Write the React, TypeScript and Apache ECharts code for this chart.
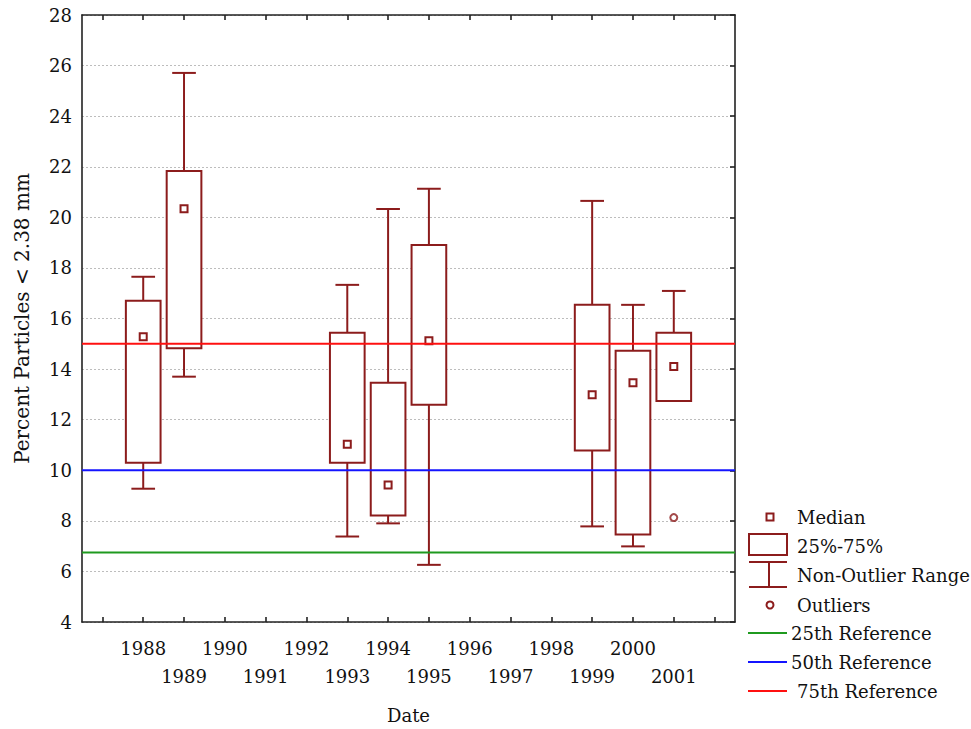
import React, { useEffect, useRef } from "react";
import * as echarts from "echarts";

// ---- data ----
const boxYears = [1988, 1989, 1993, 1994, 1995, 1999, 2000, 2001];
const whiskerLow = [9.27, 13.7, 7.38, 7.9, 6.26, 7.78, 6.99, 12.74];
const q1 = [10.3, 14.82, 10.3, 8.21, 12.59, 10.78, 7.46, 12.74];
const medians = [15.28, 20.34, 11.03, 9.42, 15.12, 12.99, 13.46, 14.1];
const q3 = [16.7, 21.83, 15.44, 13.46, 18.91, 16.54, 14.72, 15.44];
const whiskerHigh = [17.65, 25.71, 17.33, 20.33, 21.13, 20.65, 16.54, 17.09];
const outlierYears = [2001];
const outlierValues = [8.13];
const labelYearsRow1 = [1988, 1990, 1992, 1994, 1996, 1998, 2000];
const labelYearsRow2 = [1989, 1991, 1993, 1995, 1997, 1999, 2001];
const tickYears = [1987, 1988, 1989, 1990, 1991, 1992, 1993, 1994, 1995, 1996, 1997, 1998, 1999, 2000, 2001, 2002];
const refNames = ["25th Reference", "50th Reference", "75th Reference"];
const refValues = [6.75, 10, 15];
const refColors = ["#1f9a1f", "#1414ff", "#ff1010"];

const X_MIN = 1986.5;
const X_MAX = 2002.5;
const BOX_COLOR = "#8c1c1c";
const FONT = "DejaVu Serif";
const FS = 18;
const AXIS_COLOR = "#222222";

export default function App() {
  const ref = useRef<HTMLDivElement>(null);
  useEffect(() => {
    document.body.style.margin = "0";
    const chart = echarts.init(ref.current!, null, { renderer: "svg" });

    const boxData = boxYears.map((y, i) => [y, whiskerLow[i], q1[i], medians[i], q3[i], whiskerHigh[i]]);

    const renderBox = (params: any, api: any) => {
      const x = api.value(0);
      const [cx, yLow] = api.coord([x, api.value(1)]);
      const yQ1 = api.coord([x, api.value(2)])[1];
      const yMed = api.coord([x, api.value(3)])[1];
      const yQ3 = api.coord([x, api.value(4)])[1];
      const yHigh = api.coord([x, api.value(5)])[1];
      const boxW = api.size([0.85, 0])[0];
      const capW = api.size([0.58, 0])[0];
      const st = { stroke: BOX_COLOR, lineWidth: 2, fill: "none" };
      return {
        type: "group",
        children: [
          { type: "line", shape: { x1: cx, y1: yHigh, x2: cx, y2: yQ3 }, style: st },
          { type: "line", shape: { x1: cx, y1: yQ1, x2: cx, y2: yLow }, style: st },
          { type: "line", shape: { x1: cx - capW / 2, y1: yHigh, x2: cx + capW / 2, y2: yHigh }, style: st },
          { type: "line", shape: { x1: cx - capW / 2, y1: yLow, x2: cx + capW / 2, y2: yLow }, style: st },
          {
            type: "rect",
            shape: { x: cx - boxW / 2, y: yQ3, width: boxW, height: yQ1 - yQ3 },
            style: { stroke: BOX_COLOR, lineWidth: 2, fill: "#ffffff" },
          },
          {
            type: "rect",
            shape: { x: cx - 3.5, y: yMed - 3.5, width: 7, height: 7 },
            style: { stroke: BOX_COLOR, lineWidth: 2, fill: "#ffffff" },
          },
        ],
      };
    };

    const textStyle = { fontFamily: FONT, fontSize: FS, fill: "#111" };
    const lx1 = 749;
    const lx2 = 787;
    const legend: any[] = [
      { type: "rect", shape: { x: 766.5, y: 513.5, width: 7, height: 7 }, style: { stroke: BOX_COLOR, lineWidth: 2, fill: "#fff" } },
      { type: "text", x: 797, y: 517, style: { ...textStyle, text: "Median", verticalAlign: "middle" } },
      { type: "rect", shape: { x: lx1, y: 534, width: lx2 - lx1, height: 21 }, style: { stroke: BOX_COLOR, lineWidth: 2, fill: "#fff" } },
      { type: "text", x: 797, y: 546, style: { ...textStyle, text: "25%-75%", verticalAlign: "middle" } },
      { type: "line", shape: { x1: lx1, y1: 562, x2: lx2, y2: 562 }, style: { stroke: BOX_COLOR, lineWidth: 2 } },
      { type: "line", shape: { x1: 769, y1: 562, x2: 769, y2: 587 }, style: { stroke: BOX_COLOR, lineWidth: 2 } },
      { type: "line", shape: { x1: lx1, y1: 587, x2: lx2, y2: 587 }, style: { stroke: BOX_COLOR, lineWidth: 2 } },
      { type: "text", x: 797, y: 575, style: { ...textStyle, text: "Non-Outlier Range", verticalAlign: "middle" } },
      { type: "circle", shape: { cx: 770, cy: 605, r: 3.5 }, style: { stroke: BOX_COLOR, lineWidth: 2, fill: "#fff" } },
      { type: "text", x: 797, y: 605, style: { ...textStyle, text: "Outliers", verticalAlign: "middle" } },
    ];
    const refLegendY = [633, 662, 691];
    const refLegendX = [791, 791, 797];
    refNames.forEach((n, i) => {
      legend.push({ type: "line", shape: { x1: 748, y1: refLegendY[i], x2: 787, y2: refLegendY[i] }, style: { stroke: refColors[i], lineWidth: 2 } });
      legend.push({ type: "text", x: refLegendX[i], y: refLegendY[i], style: { ...textStyle, text: n, verticalAlign: "middle" } });
    });

    const axisLineStyle = { color: AXIS_COLOR, width: 1.6 };
    const yearFmt = (v: number) => String(Math.round(v));

    chart.setOption({
      animation: false,
      backgroundColor: "#ffffff",
      grid: { left: 82, right: 236, top: 15, bottom: 105 },
      xAxis: [
        {
          type: "value",
          min: X_MIN,
          max: X_MAX,
          name: "Date",
          nameLocation: "middle",
          nameGap: 84,
          nameTextStyle: { fontFamily: FONT, fontSize: FS, color: "#111" },
          axisLine: { lineStyle: axisLineStyle },
          axisTick: { show: true, inside: true, length: 5, customValues: tickYears, lineStyle: axisLineStyle },
          axisLabel: {
            customValues: labelYearsRow1,
            showMinLabel: true,
            showMaxLabel: true,
            fontFamily: FONT,
            fontSize: FS,
            color: "#111",
            margin: 17,
            formatter: yearFmt,
          },
          splitLine: { show: false },
        },
        {
          type: "value",
          position: "bottom",
          min: X_MIN,
          max: X_MAX,
          axisLine: { show: false },
          axisTick: { show: false },
          axisLabel: {
            customValues: labelYearsRow2,
            showMinLabel: true,
            showMaxLabel: true,
            fontFamily: FONT,
            fontSize: FS,
            color: "#111",
            margin: 45,
            formatter: yearFmt,
          },
          splitLine: { show: false },
        },
        {
          type: "value",
          position: "top",
          min: X_MIN,
          max: X_MAX,
          axisLine: { show: true, lineStyle: axisLineStyle },
          axisTick: { show: true, inside: true, length: 5, customValues: tickYears, lineStyle: axisLineStyle },
          axisLabel: { show: false },
          splitLine: { show: false },
        },
      ],
      yAxis: [
        {
          type: "value",
          min: 4,
          max: 28,
          interval: 2,
          name: "Percent Particles < 2.38 mm",
          nameLocation: "middle",
          nameRotate: 90,
          nameGap: 50,
          nameTextStyle: { fontFamily: FONT, fontSize: 20, color: "#111" },
          axisLine: { show: true, lineStyle: axisLineStyle },
          axisTick: { show: false },
          axisLabel: { fontFamily: FONT, fontSize: FS, color: "#111", margin: 10 },
          splitLine: { show: true, lineStyle: { color: "#bdbdbd", width: 1, type: [2, 2] } },
        },
        {
          type: "value",
          position: "right",
          min: 4,
          max: 28,
          interval: 2,
          axisLine: { show: true, lineStyle: axisLineStyle },
          axisTick: { show: true, inside: true, length: 5, lineStyle: axisLineStyle },
          axisLabel: { show: false },
          splitLine: { show: false },
        },
      ],
      series: [
        {
          type: "custom",
          name: "boxes",
          renderItem: renderBox,
          data: boxData,
          encode: { x: 0, y: [1, 2, 3, 4, 5] },
          z: 2,
          silent: true,
        },
        {
          type: "scatter",
          name: "Outliers",
          data: outlierYears.map((y, i) => [y, outlierValues[i]]),
          symbol: "circle",
          symbolSize: 7,
          itemStyle: { color: "#ffffff", borderColor: BOX_COLOR, borderWidth: 2 },
          z: 3,
          silent: true,
        },
        ...refValues.map((v, i) => ({
          type: "line",
          name: refNames[i],
          data: [
            [X_MIN, v],
            [X_MAX, v],
          ],
          showSymbol: false,
          symbol: "none",
          lineStyle: { color: refColors[i], width: 2 },
          z: 5,
          silent: true,
        })),
      ],
      graphic: legend,
    });
    return () => chart.dispose();
  }, []);
  return <div ref={ref} style={{ width: 971, height: 729 }} />;
}
